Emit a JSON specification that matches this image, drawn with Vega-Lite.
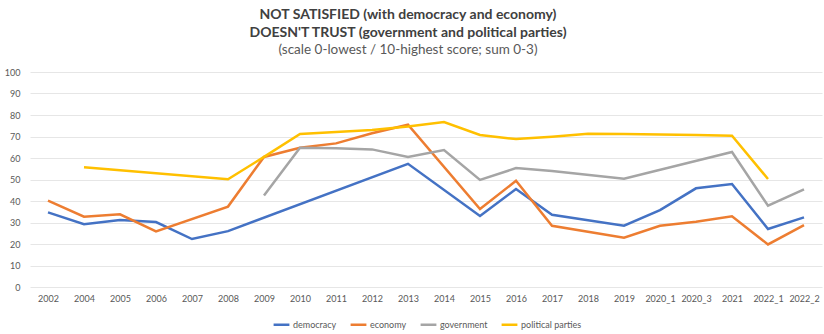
{
  "$schema": "https://vega.github.io/schema/vega-lite/v6.json",
  "autosize": {"type": "none"},
  "width": 792,
  "height": 215,
  "padding": {"left": 30, "top": 72, "right": 2, "bottom": 47},
  "background": "white",
  "title": {
    "text": ["NOT SATISFIED (with democracy and economy)", "DOESN'T TRUST (government and political parties)"],
    "subtitle": "(scale 0-lowest / 10-highest score; sum 0-3)",
    "font": "Lato",
    "fontSize": 14,
    "fontWeight": "bold",
    "color": "#404040",
    "lineHeight": 18,
    "subtitleFont": "Lato",
    "subtitleFontSize": 13.5,
    "subtitleColor": "#595959",
    "subtitlePadding": 3,
    "anchor": "middle",
    "dx": -18,
    "offset": 12
  },
  "data": {
    "values": [
      {"period": "2002", "series": "democracy", "value": 34.7},
      {"period": "2004", "series": "democracy", "value": 29.2},
      {"period": "2005", "series": "democracy", "value": 31.2},
      {"period": "2006", "series": "democracy", "value": 30.2},
      {"period": "2007", "series": "democracy", "value": 22.3},
      {"period": "2008", "series": "democracy", "value": 26},
      {"period": "2013", "series": "democracy", "value": 57.3},
      {"period": "2015", "series": "democracy", "value": 33},
      {"period": "2016", "series": "democracy", "value": 45.6},
      {"period": "2017", "series": "democracy", "value": 33.6},
      {"period": "2019", "series": "democracy", "value": 28.5},
      {"period": "2020_1", "series": "democracy", "value": 35.8},
      {"period": "2020_3", "series": "democracy", "value": 45.9},
      {"period": "2021", "series": "democracy", "value": 47.9},
      {"period": "2022_1", "series": "democracy", "value": 27},
      {"period": "2022_2", "series": "democracy", "value": 32.4},

      {"period": "2002", "series": "economy", "value": 40.2},
      {"period": "2004", "series": "economy", "value": 32.7},
      {"period": "2005", "series": "economy", "value": 33.8},
      {"period": "2006", "series": "economy", "value": 25.9},
      {"period": "2008", "series": "economy", "value": 37.4},
      {"period": "2009", "series": "economy", "value": 60.5},
      {"period": "2010", "series": "economy", "value": 64.8},
      {"period": "2011", "series": "economy", "value": 66.8},
      {"period": "2012", "series": "economy", "value": 71.5},
      {"period": "2013", "series": "economy", "value": 75.5},
      {"period": "2015", "series": "economy", "value": 36.3},
      {"period": "2016", "series": "economy", "value": 49.4},
      {"period": "2017", "series": "economy", "value": 28.5},
      {"period": "2019", "series": "economy", "value": 22.9},
      {"period": "2020_1", "series": "economy", "value": 28.5},
      {"period": "2020_3", "series": "economy", "value": 30.4},
      {"period": "2021", "series": "economy", "value": 32.9},
      {"period": "2022_1", "series": "economy", "value": 19.8},
      {"period": "2022_2", "series": "economy", "value": 28.8},

      {"period": "2009", "series": "government", "value": 42.6},
      {"period": "2010", "series": "government", "value": 64.8},
      {"period": "2011", "series": "government", "value": 64.5},
      {"period": "2012", "series": "government", "value": 64},
      {"period": "2013", "series": "government", "value": 60.5},
      {"period": "2014", "series": "government", "value": 63.7},
      {"period": "2015", "series": "government", "value": 49.8},
      {"period": "2016", "series": "government", "value": 55.3},
      {"period": "2017", "series": "government", "value": 54},
      {"period": "2019", "series": "government", "value": 50.4},
      {"period": "2021", "series": "government", "value": 62.8},
      {"period": "2022_1", "series": "government", "value": 37.8},
      {"period": "2022_2", "series": "government", "value": 45.4},

      {"period": "2004", "series": "political parties", "value": 55.7},
      {"period": "2008", "series": "political parties", "value": 50.1},
      {"period": "2009", "series": "political parties", "value": 60.5},
      {"period": "2010", "series": "political parties", "value": 71.2},
      {"period": "2011", "series": "political parties", "value": 72.1},
      {"period": "2012", "series": "political parties", "value": 73},
      {"period": "2013", "series": "political parties", "value": 74.6},
      {"period": "2014", "series": "political parties", "value": 76.7},
      {"period": "2015", "series": "political parties", "value": 70.7},
      {"period": "2016", "series": "political parties", "value": 68.8},
      {"period": "2017", "series": "political parties", "value": 69.9},
      {"period": "2018", "series": "political parties", "value": 71.3},
      {"period": "2019", "series": "political parties", "value": 71.2},
      {"period": "2020_1", "series": "political parties", "value": 70.9},
      {"period": "2020_3", "series": "political parties", "value": 70.7},
      {"period": "2021", "series": "political parties", "value": 70.4},
      {"period": "2022_1", "series": "political parties", "value": 50.2}
    ]
  },
  "mark": {"type": "line", "strokeWidth": 2.5, "strokeJoin": "miter"},
  "encoding": {
    "x": {
      "field": "period",
      "type": "ordinal",
      "sort": null,
      "scale": {
        "type": "point",
        "padding": 0.5,
        "domain": ["2002","2004","2005","2006","2007","2008","2009","2010","2011","2012","2013","2014","2015","2016","2017","2018","2019","2020_1","2020_3","2021","2022_1","2022_2"]
      },
      "axis": {
        "title": null,
        "labelAngle": 0,
        "labelFont": "Lato",
        "labelFontSize": 9,
        "labelColor": "#595959",
        "labelPadding": 7,
        "ticks": false,
        "domain": false,
        "grid": false
      }
    },
    "y": {
      "field": "value",
      "type": "quantitative",
      "scale": {"domain": [0, 100], "nice": false},
      "axis": {
        "title": null,
        "values": [0,10,20,30,40,50,60,70,80,90,100],
        "labelFont": "Lato",
        "labelFontSize": 9,
        "labelColor": "#595959",
        "labelPadding": 10,
        "ticks": false,
        "domain": false,
        "grid": true,
        "gridColor": "#e6e6e6",
        "gridWidth": 1
      }
    },
    "color": {
      "field": "series",
      "type": "nominal",
      "scale": {
        "domain": ["democracy", "economy", "government", "political parties"],
        "range": ["#4472C4", "#ED7D31", "#A5A5A5", "#FFC000"]
      },
      "legend": {
        "title": null,
        "orient": "none",
        "direction": "horizontal",
        "legendX": 242,
        "legendY": 243,
        "symbolType": "stroke",
        "symbolSize": 250,
        "symbolStrokeWidth": 2.5,
        "labelFont": "Lato",
        "labelFontSize": 9,
        "labelColor": "#595959",
        "columnPadding": 8,
        "labelOffset": 2
      }
    }
  },
  "config": {"view": {"stroke": null}}
}
